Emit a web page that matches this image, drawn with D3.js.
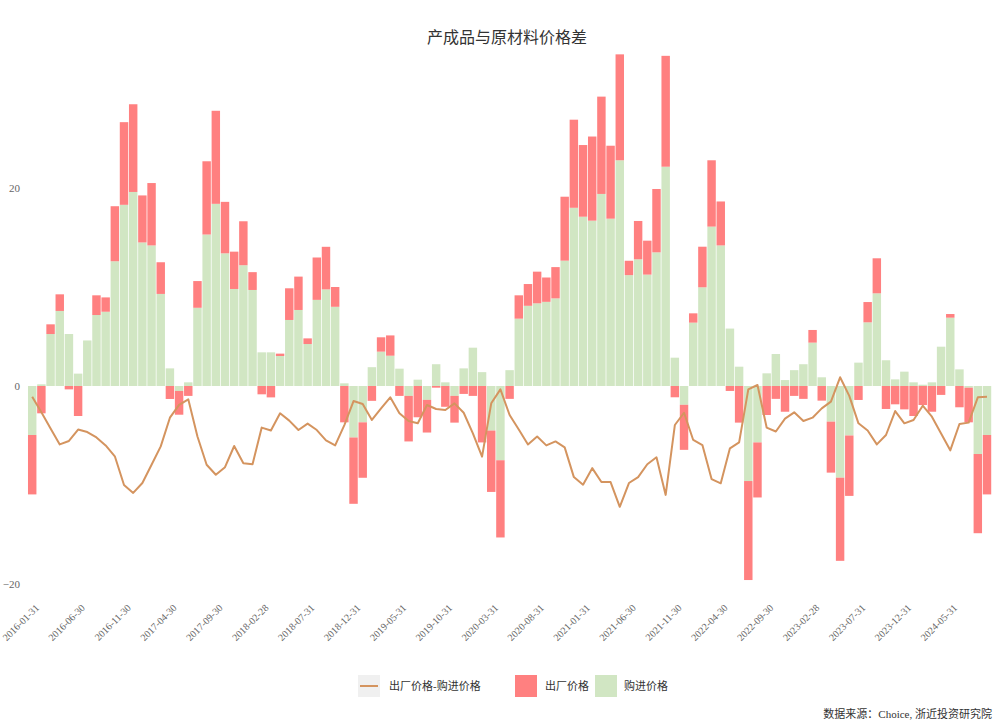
<!DOCTYPE html>
<html>
<head>
<meta charset="utf-8">
<script src="https://cdn.jsdelivr.net/npm/d3@7/dist/d3.min.js"></script>
<style>
  body { margin: 0; background: #fff; }
  svg { display: block; }
  text { font-family: "Liberation Serif", "Noto Sans CJK SC", serif; }
</style>
</head>
<body>
<svg id="chart" width="1000" height="727"></svg>
<script>
const dates = [
"2016-01-31","2016-02-29","2016-03-31","2016-04-30","2016-05-31","2016-06-30","2016-07-31","2016-08-31","2016-09-30","2016-10-31","2016-11-30","2016-12-31",
"2017-01-31","2017-02-28","2017-03-31","2017-04-30","2017-05-31","2017-06-30","2017-07-31","2017-08-31","2017-09-30","2017-10-31","2017-11-30","2017-12-31",
"2018-01-31","2018-02-28","2018-03-31","2018-04-30","2018-05-31","2018-06-30","2018-07-31","2018-08-31","2018-09-30","2018-10-31","2018-11-30","2018-12-31",
"2019-01-31","2019-02-28","2019-03-31","2019-04-30","2019-05-31","2019-06-30","2019-07-31","2019-08-31","2019-09-30","2019-10-31","2019-11-30","2019-12-31",
"2020-01-31","2020-02-29","2020-03-31","2020-04-30","2020-05-31","2020-06-30","2020-07-31","2020-08-31","2020-09-30","2020-10-31","2020-11-30","2020-12-31",
"2021-01-31","2021-02-28","2021-03-31","2021-04-30","2021-05-31","2021-06-30","2021-07-31","2021-08-31","2021-09-30","2021-10-31","2021-11-30","2021-12-31",
"2022-01-31","2022-02-28","2022-03-31","2022-04-30","2022-05-31","2022-06-30","2022-07-31","2022-08-31","2022-09-30","2022-10-31","2022-11-30","2022-12-31",
"2023-01-31","2023-02-28","2023-03-31","2023-04-30","2023-05-31","2023-06-30","2023-07-31","2023-08-31","2023-09-30","2023-10-31","2023-11-30","2023-12-31",
"2024-01-31","2024-02-29","2024-03-31","2024-04-30","2024-05-31","2024-06-30","2024-07-31","2024-08-31","2024-09-30"
];

// 购进价格 (green)
const purchase = [
-4.95,0.17,5.25,7.58,5.25,1.25,4.6,7.17,7.5,12.6,18.3,19.6,
14.5,14.2,9.3,1.78,-0.5,0.37,7.9,15.3,18.4,13.4,9.8,12.2,
9.7,3.4,3.4,3.03,6.67,7.68,4.24,8.7,9.76,8.0,0.27,-5.2,
-3.67,1.9,3.47,3.06,1.75,-1.0,0.64,-1.4,2.2,0.37,-1.0,1.78,
3.87,1.4,-4.5,-7.5,1.6,6.8,8.1,8.35,8.5,8.85,12.66,18.0,
17.1,16.7,19.4,16.9,22.8,11.2,12.8,11.25,13.5,22.15,2.86,-1.9,
6.4,9.97,16.1,14.2,5.8,1.95,-9.6,-5.7,1.28,3.23,0.6,1.6,
2.2,4.38,0.88,-3.6,-9.26,-5.0,2.36,6.43,9.36,2.6,0.67,1.45,
0.37,0.13,0.37,3.97,6.9,1.68,-0.17,-6.87,-4.95
];

// 出厂价格 (red)
const exFactory = [
-6.0,-2.76,0.98,1.68,-0.34,-3.03,0,1.99,1.45,5.56,8.35,8.86,
4.75,6.3,3.2,-1.31,-2.4,-1.0,2.7,7.4,9.4,5.2,3.77,4.44,
1.8,-0.84,-1.15,0.24,3.2,3.37,0.57,4.28,4.3,2.0,-3.67,-6.7,
-5.6,-1.5,1.45,2.05,-1.0,-4.6,-3.16,-3.3,-0.17,-2.1,-2.7,-0.8,
-1.0,-5.7,-6.2,-7.8,-1.3,2.36,2.2,3.2,2.46,3.16,6.46,8.9,
7.24,8.5,9.83,7.37,10.7,1.45,3.87,3.43,6.4,11.2,-1.14,-4.55,
0.94,4.1,6.7,4.44,-0.5,-3.7,-10.0,-5.56,-2.93,-1.3,-2.6,-1.0,
-1.3,1.28,-1.48,-5.15,-8.4,-6.1,-1.41,2.05,3.54,-2.32,-1.85,-2.36,
-3.03,-1.92,-2.6,-0.9,0.37,-2.15,-3.5,-8.0,-6.0
];

// 出厂价格-购进价格 (line)
const spread = [
-1.08,-2.65,-4.3,-5.9,-5.55,-4.4,-4.65,-5.2,-6.0,-7.1,-10.0,-10.8,
-9.8,-7.95,-6.1,-3.2,-1.9,-1.35,-5.1,-7.95,-8.96,-8.2,-6.06,-7.8,
-7.9,-4.2,-4.5,-2.76,-3.5,-4.45,-3.8,-4.45,-5.5,-6.0,-3.95,-1.52,
-1.82,-3.43,-2.26,-1.14,-2.76,-3.54,-3.77,-1.92,-2.32,-2.42,-1.75,-2.7,
-4.78,-7.14,-1.75,-0.34,-2.93,-4.4,-5.9,-5.1,-6.0,-5.6,-6.2,-9.2,
-9.97,-8.3,-9.7,-9.7,-12.2,-9.8,-9.2,-7.9,-7.2,-11.0,-3.94,-2.7,
-5.45,-5.96,-9.4,-9.83,-6.3,-5.7,-0.34,0.1,-4.2,-4.6,-3.3,-2.66,
-3.54,-3.2,-2.26,-1.58,0.88,-1.0,-3.77,-4.5,-5.9,-4.95,-2.53,-3.77,
-3.43,-1.99,-3.1,-4.8,-6.5,-3.84,-3.7,-1.14,-1.08
];

const tickLabels = ["2016-01-31","2016-06-30","2016-11-30","2017-04-30","2017-09-30","2018-02-28","2018-07-31","2018-12-31","2019-05-31","2019-10-31","2020-03-31","2020-08-31","2021-01-31","2021-06-30","2021-11-30","2022-04-30","2022-09-30","2023-02-28","2023-07-31","2023-12-31","2024-05-31"];
const yTicks = [-20, 0, 20];

const title = "产成品与原材料价格差";
const seriesNames = { spread: "出厂价格-购进价格", exFactory: "出厂价格", purchase: "购进价格" };
const source = "数据来源：Choice, 浙近投资研究院";

const colors = { purchase: "#d1e6c3", exFactory: "#ff8080", spread: "#d4945f" };

const svg = d3.select("#chart");

const x = d3.scaleBand().domain(dates).range([27.8, 991.4]).paddingInner(0.08).paddingOuter(0.02);
const y = d3.scaleLinear().domain([-20, 20]).range([584, 188]);

const table = dates.map((d, i) => ({ date: d, purchase: purchase[i], exFactory: exFactory[i], spread: spread[i] }));

const stack = d3.stack().keys(["purchase", "exFactory"]).offset(d3.stackOffsetDiverging);
const layers = stack(table);

const gBars = svg.append("g");
layers.forEach(layer => {
  gBars.append("g")
    .attr("fill", colors[layer.key])
    .selectAll("rect")
    .data(layer)
    .join("rect")
    .attr("x", d => x(d.data.date))
    .attr("width", x.bandwidth())
    .attr("y", d => y(Math.max(d[0], d[1])))
    .attr("height", d => Math.abs(y(d[0]) - y(d[1])));
});

const line = d3.line()
  .x(d => x(d.date) + x.bandwidth() / 2)
  .y(d => y(d.spread));

svg.append("path")
  .datum(table)
  .attr("fill", "none")
  .attr("stroke", colors.spread)
  .attr("stroke-width", 2)
  .attr("stroke-linejoin", "round")
  .attr("d", line);

// Y axis
const yAxis = d3.axisLeft(y).tickValues(yTicks).tickSize(0).tickPadding(0);
const gy = svg.append("g").attr("transform", "translate(20,0)").call(yAxis);
gy.select(".domain").remove();
gy.selectAll("text").attr("fill", "#666").attr("font-size", 11);

// X axis
const xAxis = d3.axisBottom(x).tickValues(tickLabels).tickSize(0).tickPadding(0);
const gx = svg.append("g").attr("transform", "translate(0,606)").call(xAxis);
gx.select(".domain").remove();
gx.selectAll("text")
  .attr("fill", "#666")
  .attr("font-size", 10)
  .attr("text-anchor", "end")
  .attr("dy", "0.35em")
  .attr("transform", "rotate(-45)")
  .attr("y", 0)
  .attr("x", 0);
gx.selectAll(".tick").attr("transform", d => `translate(${x(d) + x.bandwidth() / 2 + 5},0)`);

// Title
svg.append("text")
  .attr("x", 507).attr("y", 43)
  .attr("text-anchor", "middle")
  .attr("font-size", 16)
  .attr("fill", "#333")
  .text(title);

// Legend
const lg = svg.append("g");
lg.append("rect").attr("x", 358).attr("y", 675).attr("width", 22).attr("height", 22).attr("fill", "#f0f0f0");
lg.append("line").attr("x1", 360).attr("x2", 378).attr("y1", 686).attr("y2", 686)
  .attr("stroke", colors.spread).attr("stroke-width", 2);
lg.append("text").attr("x", 389).attr("y", 690).attr("font-size", 11).attr("fill", "#333").text(seriesNames.spread);

lg.append("rect").attr("x", 515).attr("y", 675).attr("width", 22).attr("height", 22).attr("fill", colors.exFactory);
lg.append("text").attr("x", 545).attr("y", 690).attr("font-size", 11).attr("fill", "#333").text(seriesNames.exFactory);

lg.append("rect").attr("x", 595).attr("y", 675).attr("width", 22).attr("height", 22).attr("fill", colors.purchase);
lg.append("text").attr("x", 624).attr("y", 690).attr("font-size", 11).attr("fill", "#333").text(seriesNames.purchase);

// Source
svg.append("text")
  .attr("x", 992).attr("y", 718)
  .attr("text-anchor", "end")
  .attr("font-size", 11)
  .attr("fill", "#333")
  .text(source);
</script>
</body>
</html>
